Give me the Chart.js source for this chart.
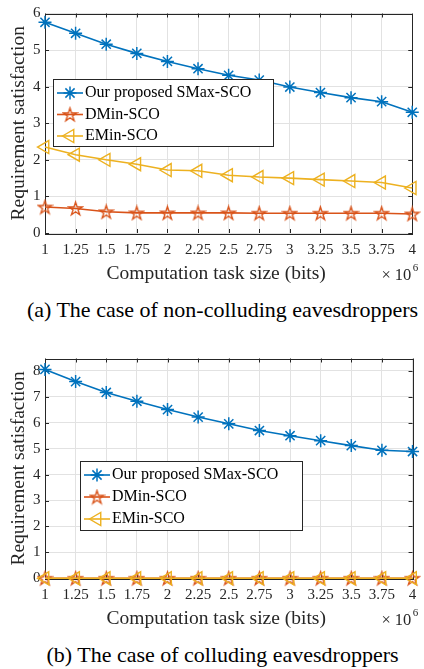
<!DOCTYPE html>
<html><head><meta charset="utf-8">
<script src="https://cdn.jsdelivr.net/npm/chart.js@4"></script>
<style>
html,body{margin:0;padding:0;background:#fff;}
#page{position:relative;width:424px;height:669px;overflow:hidden;font-family:'Liberation Serif','Times New Roman',serif;}
.wrap{position:absolute;left:0;width:424px;}
.cap{position:absolute;left:11px;width:423px;text-align:center;font-size:22px;line-height:22px;color:#000;white-space:nowrap;}
.mult{position:absolute;left:381.5px;font-size:16.5px;line-height:16.5px;color:#262626;white-space:nowrap;}
.mult .ten{margin-left:4px;}
.mult .exp{font-size:11px;position:relative;top:-9.4px;margin-left:1.5px;}
</style>
</head><body>
<div id="page">
  <div class="wrap" style="top:0;height:290px;"><canvas id="c1"></canvas></div>
  <div class="mult" style="top:267.2px;"><span>×</span><span class="ten">10</span><span class="exp">6</span></div>
  <div class="cap" style="top:299px;">(a) The case of non-colluding eavesdroppers</div>
  <div class="wrap" style="top:345px;height:290px;"><canvas id="c2"></canvas></div>
  <div class="mult" style="top:612.2px;"><span>×</span><span class="ten">10</span><span class="exp">6</span></div>
  <div class="cap" style="top:644px;">(b) The case of colluding eavesdroppers</div>
</div>
<script>
// ---- data ----
const taskSizes = ['1','1.25','1.5','1.75','2','2.25','2.5','2.75','3','3.25','3.5','3.75','4'];
const seriesNames = ['Our proposed SMax-SCO','DMin-SCO','EMin-SCO'];
const aSMax = [5.76,5.46,5.16,4.91,4.69,4.49,4.31,4.18,3.99,3.84,3.70,3.59,3.30];
const aDMin = [0.71,0.67,0.58,0.55,0.55,0.55,0.55,0.54,0.54,0.54,0.54,0.54,0.52];
const aEMin = [2.35,2.14,2.00,1.88,1.72,1.70,1.58,1.53,1.50,1.46,1.42,1.38,1.23];
const bSMax = [8.06,7.59,7.17,6.83,6.51,6.22,5.96,5.70,5.50,5.31,5.12,4.94,4.89];
const bDMin = [0,0,0,0,0,0,0,0,0,0,0,0,0];
const bEMin = [0,0,0,0,0,0,0,0,0,0,0,0,0];
const yTicksA = [0,1,2,3,4,5,6];
const yTicksB = [0,1,2,3,4,5,6,7,8];
const xTitle = 'Computation task size (bits)';
const yTitle = 'Requirement satisfaction';

Chart.defaults.font.family = "'Liberation Serif','Times New Roman',serif";
Chart.defaults.color = '#262626';

const BLUE = '#0072BD', ORANGE = '#D95319', YELLOW = '#EDB120';

// pentagram marker image
function makePentagram(color){
  const s = 17, c = document.createElement('canvas');
  c.width = s; c.height = s;
  const g = c.getContext('2d');
  const R = 7, r = R * 0.382, cx = s/2, cy = s/2 + 0.6;
  g.beginPath();
  for (let i = 0; i < 10; i++){
    const ang = -Math.PI/2 + i*Math.PI/5;
    const rr = i % 2 === 0 ? R : r;
    const px = cx + rr*Math.cos(ang), py = cy + rr*Math.sin(ang);
    if (i === 0) g.moveTo(px,py); else g.lineTo(px,py);
  }
  g.closePath();
  g.strokeStyle = color; g.lineWidth = 1.4; g.lineJoin = 'miter';
  g.stroke();
  return c;
}
const pentagram = makePentagram(ORANGE);

const boxPlugin = {
  id: 'axisBox',
  beforeDatasetsDraw(chart){
    const {ctx, chartArea:{left,right,top,bottom}, scales:{x,y}} = chart;
    ctx.save();
    ctx.strokeStyle = '#262626'; ctx.lineWidth = 1;
    ctx.beginPath();
    x.ticks.forEach((t,i)=>{
      const px = Math.round(x.getPixelForTick(i)) + 0.5;
      ctx.moveTo(px,bottom); ctx.lineTo(px,bottom-4);
      ctx.moveTo(px,top); ctx.lineTo(px,top+4);
    });
    y.ticks.forEach((t,i)=>{
      const py = Math.round(y.getPixelForTick(i)) + 0.5;
      ctx.moveTo(left,py); ctx.lineTo(left+4,py);
      ctx.moveTo(right,py); ctx.lineTo(right-4,py);
    });
    ctx.stroke();
    ctx.strokeRect(Math.round(left)+0.5, Math.round(top)+0.5, Math.round(right-left), Math.round(bottom-top));
    ctx.restore();
  }
};

const legendPlugin = {
  id: 'boxLegend',
  afterDraw(chart, args, o){
    const {ctx, chartArea} = chart;
    const x0 = Math.round(chartArea.left + o.dx), y0 = Math.round(chartArea.top + o.dy);
    ctx.save();
    ctx.fillStyle = '#fff';
    ctx.fillRect(x0, y0, o.w, o.h);
    ctx.strokeStyle = '#262626'; ctx.lineWidth = 1;
    ctx.strokeRect(x0+0.5, y0+0.5, o.w, o.h);
    chart.data.datasets.forEach((ds,i)=>{
      const yy = y0 + o.row0 + i*o.gap;
      ctx.strokeStyle = ds.borderColor; ctx.lineWidth = ds.borderWidth;
      ctx.beginPath(); ctx.moveTo(x0+4, yy); ctx.lineTo(x0+30, yy); ctx.stroke();
      ctx.fillStyle = 'rgba(0,0,0,0)';
      ctx.lineWidth = ds.pointBorderWidth;
      Chart.helpers.drawPoint(ctx, {pointStyle: ds.pointStyle, rotation: ds.pointRotation || 0,
        radius: ds.pointRadius, borderWidth: ds.pointBorderWidth}, x0+17, yy);
      ctx.fillStyle = '#000';
      ctx.font = "16px 'Liberation Serif','Times New Roman',serif";
      ctx.textBaseline = 'middle'; ctx.textAlign = 'left';
      ctx.fillText(ds.label, x0+32, yy);
    });
    ctx.restore();
  }
};

// x-axis title drawn through the x scale, centred where the reference has it
const xTitlePlugin = {
  id: 'xTitleText',
  afterDraw(chart, args, o){
    const {ctx, scales:{x}} = chart;
    ctx.save();
    ctx.fillStyle = '#262626';
    ctx.font = "19.5px 'Liberation Serif','Times New Roman',serif";
    ctx.textAlign = 'center'; ctx.textBaseline = 'middle';
    const cx = (x.left + x.right) / 2 + o.shift;
    ctx.fillText(o.text, cx, x.bottom - o.fromBottom);
    ctx.restore();
  }
};

function datasets(smax, dmin, emin){
  return [
    {label: seriesNames[0], data: smax, borderColor: BLUE, backgroundColor: 'rgba(0,0,0,0)',
     borderWidth: 1.6, pointStyle: 'star', pointRadius: 6.5, pointBorderWidth: 1.5,
     pointBorderColor: BLUE, pointBackgroundColor: 'rgba(0,0,0,0)', tension: 0, clip: false, order: 2},
    {label: seriesNames[1], data: dmin, borderColor: ORANGE, backgroundColor: 'rgba(0,0,0,0)',
     borderWidth: 1.6, pointStyle: pentagram, pointRadius: 7, pointBorderWidth: 1.4,
     pointBorderColor: ORANGE, pointBackgroundColor: 'rgba(0,0,0,0)', tension: 0, clip: false, order: 1},
    {label: seriesNames[2], data: emin, borderColor: YELLOW, backgroundColor: 'rgba(0,0,0,0)',
     borderWidth: 1.6, pointStyle: 'triangle', pointRotation: -90, pointRadius: 7.5, pointBorderWidth: 1.4,
     pointBorderColor: YELLOW, pointBackgroundColor: 'rgba(0,0,0,0)', tension: 0, clip: false, order: 0}
  ];
}

function makeChart(id, p){
  return new Chart(document.getElementById(id), {
    type: 'line',
    data: {labels: taskSizes, datasets: datasets(p.s, p.d, p.e)},
    plugins: [boxPlugin, legendPlugin, xTitlePlugin],
    options: {
      responsive: true, maintainAspectRatio: false, animation: false, events: [],
      layout: {padding: {top: p.padTop, right: 6, left: 0, bottom: 0}},
      plugins: {legend: {display: false}, tooltip: {enabled: false},
        boxLegend: p.legend,
        xTitleText: {text: xTitle, shift: -12.5, fromBottom: p.xTitleFromBottom}},
      scales: {
        x: {
          type: 'category', offset: false,
          grid: {color: '#e2e2e2', lineWidth: 1, drawTicks: false},
          border: {display: false},
          ticks: {font: {size: 15}, color: '#262626', padding: p.tickPad, autoSkip: false, maxRotation: 0},
          title: {display: false, text: xTitle},
          afterFit(s){ s.height = p.xHeight; }
        },
        y: {
          min: 0, max: p.yMax,
          grid: {color: '#e2e2e2', lineWidth: 1, drawTicks: false},
          border: {display: false},
          ticks: {font: {size: 15}, color: '#262626', padding: 4.5, stepSize: 1},
          afterBuildTicks(s){ s.ticks = p.yTicks.map(v => ({value: v})); },
          title: {display: true, text: yTitle, font: {size: 19.5}, color: '#262626',
                  padding: {top: 7, bottom: 0}},
          afterFit(s){ s.width = 45; }
        }
      }
    }
  });
}

makeChart('c1', {s: aSMax, d: aDMin, e: aEMin, padTop: 9.5, xHeight: 57, tickPad: 8, xTitleFromBottom: 16,
  yMax: 6, yTicks: yTicksA, legend: {dx: 8, dy: 65.5, w: 220, h: 67, row0: 14, gap: 21.5}});
makeChart('c2', {s: bSMax, d: bDMin, e: bEMin, padTop: 10.7, xHeight: 56.7, tickPad: 7.7, xTitleFromBottom: 15.7,
  yMax: 8.48, yTicks: yTicksB, legend: {dx: 35, dy: 102, w: 222, h: 69, row0: 14, gap: 22}});
</script>
</body></html>
